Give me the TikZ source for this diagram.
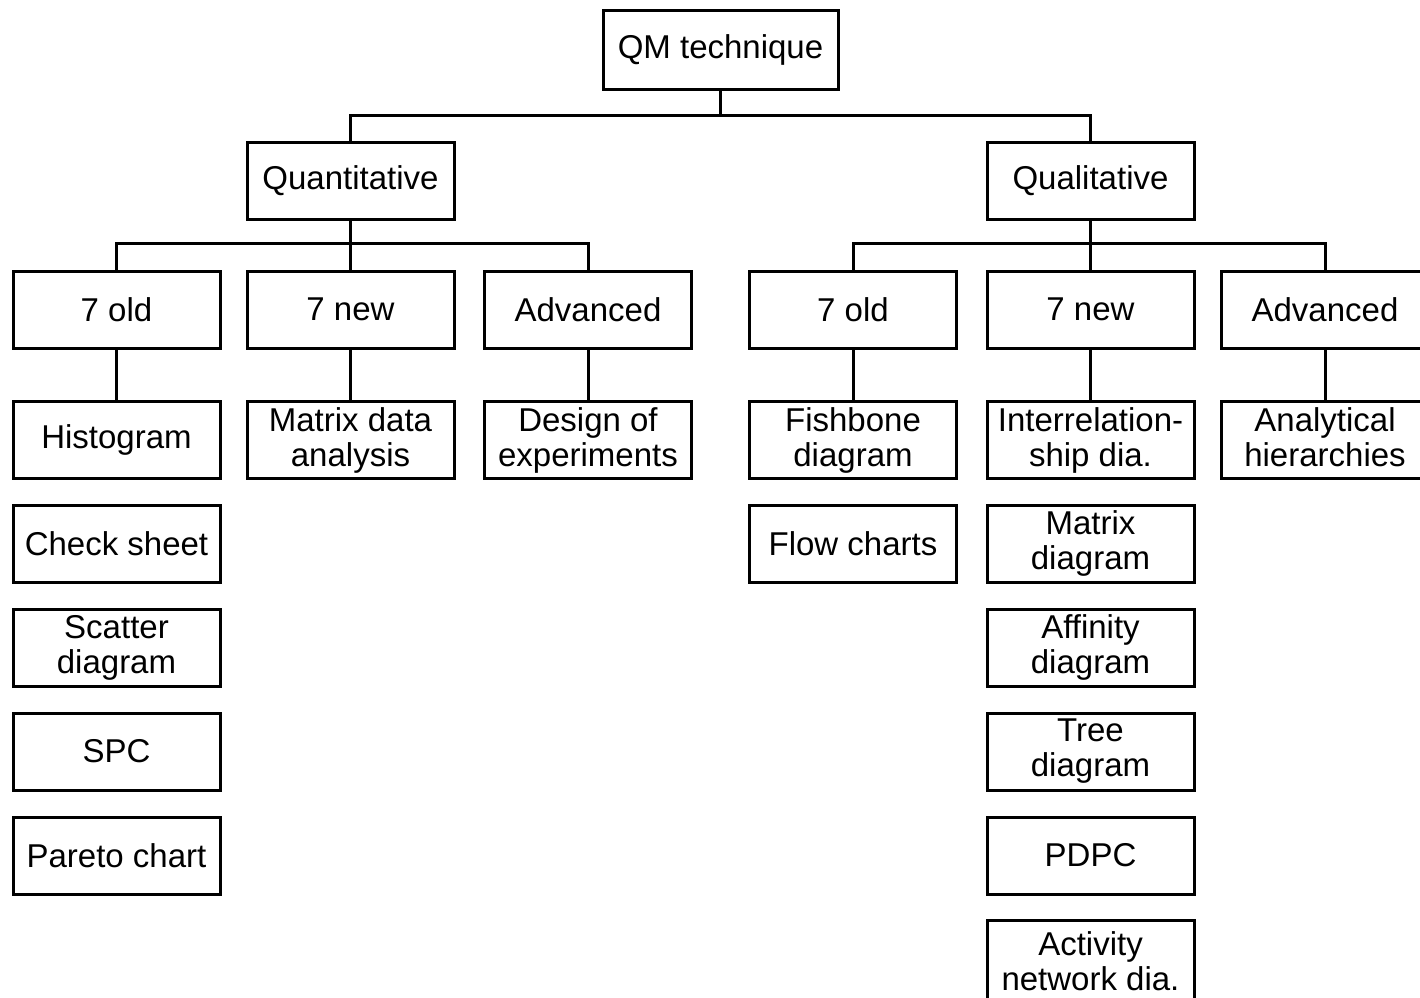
\documentclass[tikz,border=0pt]{standalone}
\usepackage{fontspec}
\setmainfont{Liberation Sans}
\begin{document}
\begin{tikzpicture}[x=0.5pt,y=-0.5pt,
  box/.style={draw,line width=1.5pt,minimum width=103.5pt,minimum height=38.5pt,
    inner sep=0pt,align=center,font=\fontsize{16.5pt}{17.5pt}\selectfont},
  conn/.style={line width=1.5pt}]
\useasboundingbox (0,0) rectangle (1420,997);
\clip (0,0) rectangle (1420,997);
\fill[white] (0,0) rectangle (1420,997);
% level 1-2
\node[box,minimum width=117.5pt,minimum height=39.5pt] (qm) at (720.5,49.5) {QM technique};
\node[box] (quant) at (350.5,181) {Quantitative};
\node[box] (qual) at (1090.5,181) {Qualitative};
% level 3
\node[box] (lo) at (116.5,309.5) {7 old};
\node[box] (ln) at (350.5,309.5) {7 new};
\node[box] (la) at (588,309.5) {Advanced};
\node[box] (ro) at (853,309.5) {7 old};
\node[box] (rn) at (1090.5,309.5) {7 new};
\node[box] (ra) at (1325,309.5) {Advanced};
% level 4
\node[box] (hist) at (116.5,440) {Histogram};
\node[box] (mda) at (350.5,440) {Matrix data\\analysis};
\node[box] (doe) at (588,440) {Design of\\experiments};
\node[box] (fish) at (853,440) {Fishbone\\diagram};
\node[box] (inter) at (1090.5,440) {Interrelation-\\ship dia.};
\node[box] (ahp) at (1325,440) {Analytical\\hierarchies\vphantom{g}};
% lists
\node[box] (check) at (116.5,543.5) {Check sheet};
\node[box] (scat) at (116.5,647.5) {Scatter\\diagram};
\node[box] (spc) at (116.5,751.5) {SPC};
\node[box] (par) at (116.5,855.5) {Pareto chart};
\node[box] (flow) at (853,543.5) {Flow charts};
\node[box] (mat) at (1090.5,543.5) {Matrix\\diagram};
\node[box] (aff) at (1090.5,647.5) {Affinity\\diagram};
\node[box] (tree) at (1090.5,751.5) {Tree\\diagram};
\node[box] (pdpc) at (1090.5,855.5) {PDPC};
\node[box,minimum height=41pt] (act) at (1090.5,961) {Activity\\network dia.};
% connectors
\coordinate (b1) at (720.5,115);
\coordinate (b2) at (350.5,243);
\coordinate (b3) at (1090.5,243);
\draw[conn] (qm.south) -- (b1);
\draw[conn] (quant.north) |- (b1) -| (qual.north);
\draw[conn] (quant.south) -- (ln.north);
\draw[conn] (lo.north) |- (b2) -| (la.north);
\draw[conn] (qual.south) -- (rn.north);
\draw[conn] (ro.north) |- (b3) -| (ra.north);
\draw[conn] (lo.south) -- (hist.north);
\draw[conn] (ln.south) -- (mda.north);
\draw[conn] (la.south) -- (doe.north);
\draw[conn] (ro.south) -- (fish.north);
\draw[conn] (rn.south) -- (inter.north);
\draw[conn] (ra.south) -- (ahp.north);
\end{tikzpicture}
\end{document}
